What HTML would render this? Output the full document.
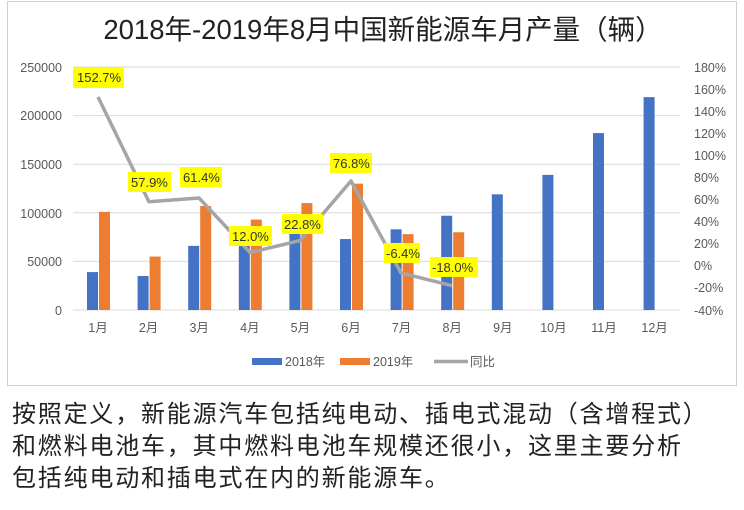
<!DOCTYPE html><html><head><meta charset="utf-8"><style>
body{margin:0;background:#fff;width:744px;height:510px;overflow:hidden;font-family:"Liberation Sans","Noto Sans CJK SC",sans-serif}
.t{position:absolute;left:12px;font-size:24px;letter-spacing:1.8px;color:#222;white-space:nowrap;line-height:30px}
</style></head><body>
<svg width="744" height="510" style="position:absolute;left:0;top:0" font-family="Liberation Sans, Noto Sans CJK SC, sans-serif">
<rect x="7.5" y="1.5" width="729" height="384" fill="#fff" stroke="#d0d0d0"/>
<text x="383" y="39" font-size="27.5" text-anchor="middle" fill="#222">2018年-2019年8月中国新能源车月产量（辆）</text>
<g stroke="#d9d9d9" stroke-width="1">
<line x1="73" x2="680" y1="67" y2="67"/><line x1="73" x2="680" y1="115.6" y2="115.6"/><line x1="73" x2="680" y1="164.2" y2="164.2"/><line x1="73" x2="680" y1="212.8" y2="212.8"/><line x1="73" x2="680" y1="261.4" y2="261.4"/><line x1="73" x2="680" y1="310" y2="310"/>
</g>
<g font-size="12.5" fill="#595959" text-anchor="end">
<text x="62" y="72">250000</text><text x="62" y="120">200000</text><text x="62" y="169">150000</text><text x="62" y="218">100000</text><text x="62" y="266">50000</text><text x="62" y="315">0</text>
</g>
<g font-size="12.5" fill="#595959">
<text x="694" y="72">180%</text><text x="694" y="94">160%</text><text x="694" y="116">140%</text><text x="694" y="138">120%</text><text x="694" y="160">100%</text><text x="694" y="182">80%</text><text x="694" y="204">60%</text><text x="694" y="226">40%</text><text x="694" y="248">20%</text><text x="694" y="270">0%</text><text x="694" y="292">-20%</text><text x="694" y="315">-40%</text>
</g>
<g id="bars"></g>
<g font-size="12.5" fill="#595959" text-anchor="middle" id="xl"></g>
<polyline fill="none" stroke="#a5a5a5" stroke-width="3.5" stroke-linejoin="round" points="98,97 149,201.8 199,198 250,252.5 300,240.6 351,181 401,272.9 452,285.7"/>
<g font-size="13" fill="#333">
<rect x="73" y="67" width="51" height="21" fill="#ffff00"/><text x="77" y="82">152.7%</text>
<rect x="128" y="172" width="43" height="20" fill="#ffff00"/><text x="131" y="187">57.9%</text>
<rect x="180" y="167" width="42" height="20" fill="#ffff00"/><text x="183" y="182">61.4%</text>
<rect x="229" y="226" width="43" height="20" fill="#ffff00"/><text x="232" y="241">12.0%</text>
<rect x="282" y="214" width="41" height="20" fill="#ffff00"/><text x="284" y="229">22.8%</text>
<rect x="330" y="153" width="42" height="20" fill="#ffff00"/><text x="333" y="168">76.8%</text>
<rect x="384" y="243" width="36" height="20" fill="#ffff00"/><text x="386" y="258">-6.4%</text>
<rect x="430" y="257" width="48" height="20" fill="#ffff00"/><text x="432" y="272">-18.0%</text>
</g>
<g font-size="12.5" fill="#595959">
<rect x="252" y="358" width="30" height="7" fill="#4472c4"/><text x="285" y="366">2018年</text>
<rect x="340" y="358" width="30" height="7" fill="#ed7d31"/><text x="373" y="366">2019年</text>
<line x1="434" x2="468" y1="361.5" y2="361.5" stroke="#a5a5a5" stroke-width="3.5"/><text x="470" y="366">同比</text>
</g>
</svg>
<div class="t" style="top:400px">按照定义，新能源汽车包括纯电动、插电式混动（含增程式）</div>
<div class="t" style="top:432px">和燃料电池车，其中燃料电池车规模还很小，这里主要分析</div>
<div class="t" style="top:464px">包括纯电动和插电式在内的新能源车。</div>
<script>
var b=[39000,35000,66000,70000,80000,73000,83000,97000,119000,139000,182000,219000],o=[101000,55000,107000,93000,110000,130000,78000,80000];
var s='',l='';for(var i=0;i<12;i++){var c=98+i*50.6;var h=b[i]*0.000972;s+='<rect x="'+(c-11)+'" y="'+(310-h)+'" width="11" height="'+h+'" fill="#4472c4"/>';
if(i<8){var h2=o[i]*0.000972;s+='<rect x="'+(c+1)+'" y="'+(310-h2)+'" width="11" height="'+h2+'" fill="#ed7d31"/>';}
l+='<text x="'+c+'" y="332">'+(i+1)+'月</text>';}
document.getElementById('bars').innerHTML=s;document.getElementById('xl').innerHTML=l;
</script>
</body></html>
